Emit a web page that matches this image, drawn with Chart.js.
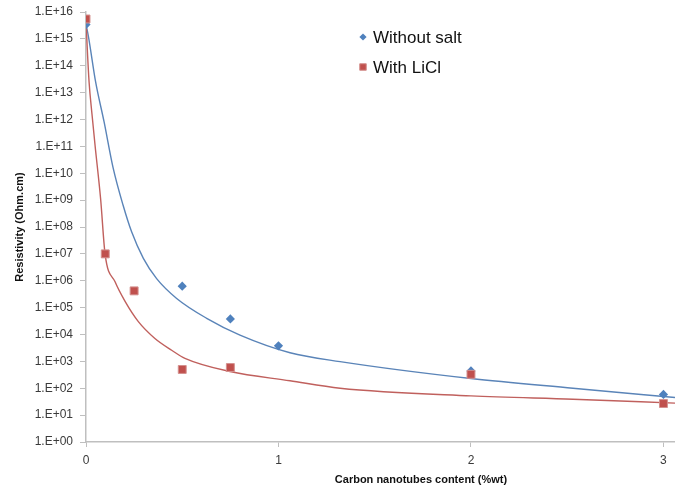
<!DOCTYPE html>
<html>
<head>
<meta charset="utf-8">
<script src="https://cdn.jsdelivr.net/npm/chart.js@4/dist/chart.umd.min.js"></script>
<style>
  html, body { margin: 0; padding: 0; background: #fff; }
  canvas { display: block; }
</style>
</head>
<body>
<canvas id="resistivityChart" width="675" height="493"></canvas>
<script>
// measured points
const withoutSaltX = [0, 0.5, 0.75, 1, 2, 3];
const withoutSaltY = [3.4e15, 6.3e5, 3.8e4, 3.8e3, 4.4e2, 59];
const withLiClX = [0, 0.1, 0.25, 0.5, 0.75, 2, 3];
const withLiClY = [5.5e15, 1e7, 4.2e5, 5e2, 5.9e2, 3.3e2, 27];

// trend curves
const trendBlueX = [0, 0.012, 0.05, 0.094, 0.14, 0.192, 0.237, 0.298, 0.367, 0.471, 0.627, 0.8, 1.06, 1.32, 2.0, 2.53, 3.06];
const trendBlueY = [3.4e15, 1.3e15, 2.5e13, 8.1e11, 1.7e10, 6.7e8, 6.6e7, 6.8e6, 1.2e6, 2.2e5, 4.0e4, 9.5e3, 2.1e3, 9.8e2, 2.3e2, 1.0e2, 45];
const trendRedX = [0, 0.005, 0.016, 0.031, 0.047, 0.076, 0.099, 0.151, 0.203, 0.272, 0.358, 0.445, 0.514, 0.748, 1.06, 1.32, 2.0, 2.53, 3.06];
const trendRedY = [5.5e15, 7.6e14, 2.5e13, 1.6e12, 1.1e11, 1.1e9, 1e7, 9.1e5, 1.7e5, 3.0e4, 7.1e3, 2.6e3, 1.3e3, 4.2e2, 1.9e2, 1.0e2, 52, 39, 28];

const xTicks = [0, 1, 2, 3];
const yTicks = [1, 1e1, 1e2, 1e3, 1e4, 1e5, 1e6, 1e7, 1e8, 1e9, 1e10, 1e11, 1e12, 1e13, 1e14, 1e15, 1e16];
const yTickLabels = ['1.E+00', '1.E+01', '1.E+02', '1.E+03', '1.E+04', '1.E+05', '1.E+06', '1.E+07', '1.E+08',
    '1.E+09', '1.E+10', '1.E+11', '1.E+12', '1.E+13', '1.E+14', '1.E+15', '1.E+16'];

const blue = '#4F81BD';
const red = '#C0504D';
const axisGray = '#bfbfbf';
const tickColor = '#3a3a3a';

function pairs(xs, ys) {
    return xs.map((x, i) => ({ x: x, y: ys[i] }));
}

// legend drawn inside the plot, excel style
const legendPlugin = {
    id: 'insideLegend',
    afterDraw(chart) {
        const ctx = chart.ctx;
        chart.data.datasets.forEach(ds => {
            if (ds.legendRow === undefined) return;
            const y = 37 + ds.legendRow * 30;
            ctx.save();
            ctx.fillStyle = ds.backgroundColor;
            ctx.strokeStyle = ds.borderColor;
            ctx.lineWidth = 1;
            Chart.helpers.drawPoint(ctx, {
                pointStyle: ds.pointStyle,
                radius: ds.pointStyle === 'rect' ? 4.6 : 3.6,
                rotation: 0,
                borderWidth: ds.borderWidth
            }, 363, y);
            ctx.fillStyle = '#111';
            ctx.font = '17px "Liberation Sans", Arial, sans-serif';
            ctx.textBaseline = 'middle';
            ctx.textAlign = 'left';
            ctx.fillText(ds.label, 373, y + 1);
            ctx.restore();
        });
    }
};

// x axis title sits right of centre in the original
const xTitlePlugin = {
    id: 'xTitle',
    afterDraw(chart) {
        const ctx = chart.ctx;
        ctx.save();
        ctx.fillStyle = '#111';
        ctx.font = 'bold 11px "Liberation Sans", Arial, sans-serif';
        ctx.textAlign = 'center';
        ctx.textBaseline = 'middle';
        ctx.fillText('Carbon nanotubes content (%wt)', 421, 480);
        ctx.restore();
    }
};

const ctx = document.getElementById('resistivityChart').getContext('2d');
new Chart(ctx, {
    type: 'scatter',
    data: {
        datasets: [
            {
                label: 'With LiCl',
                legendRow: 1,
                data: pairs(withLiClX, withLiClY),
                pointStyle: 'rect',
                pointRadius: 5.6,
                backgroundColor: red,
                borderColor: '#d4908e',
                borderWidth: 1,
                order: 0
            },
            {
                label: 'Without salt',
                legendRow: 0,
                data: pairs(withoutSaltX, withoutSaltY),
                pointStyle: 'rectRot',
                pointRadius: 4.6,
                backgroundColor: blue,
                borderColor: blue,
                borderWidth: 0,
                order: 1
            },
            {
                label: 'trend LiCl',
                data: pairs(trendRedX, trendRedY),
                showLine: true,
                pointRadius: 0,
                borderColor: '#c0605d',
                borderWidth: 1.4,
                cubicInterpolationMode: 'monotone',
                order: 2
            },
            {
                label: 'trend no salt',
                data: pairs(trendBlueX, trendBlueY),
                showLine: true,
                pointRadius: 0,
                borderColor: '#5a84b8',
                borderWidth: 1.4,
                cubicInterpolationMode: 'monotone',
                order: 3
            }
        ]
    },
    options: {
        responsive: false,
        animation: false,
        layout: {
            autoPadding: false,
            padding: { top: 12, right: 0, bottom: 0, left: 0 }
        },
        plugins: {
            legend: { display: false },
            tooltip: { enabled: false }
        },
        scales: {
            x: {
                type: 'linear',
                min: 0,
                max: 3.06,
                afterBuildTicks: scale => {
                    scale.ticks = xTicks.map(v => ({ value: v }));
                },
                afterFit: scale => {
                    scale.height = 51;
                    scale.paddingLeft = 0;
                    scale.paddingRight = 0;
                },
                ticks: {
                    color: tickColor,
                    font: { family: '"Liberation Sans", Arial, sans-serif', size: 12 },
                    padding: 6,
                    maxRotation: 0
                },
                grid: {
                    drawOnChartArea: false,
                    drawTicks: true,
                    tickLength: 5,
                    color: axisGray
                },
                border: { color: axisGray, width: 1.5 }
            },
            y: {
                type: 'logarithmic',
                min: 1,
                max: 1e16,
                afterBuildTicks: scale => {
                    scale.ticks = yTicks.map(v => ({ value: v }));
                },
                afterFit: scale => {
                    scale.width = 86;
                    scale.paddingTop = 0;
                    scale.paddingBottom = 0;
                },
                ticks: {
                    color: tickColor,
                    font: { family: '"Liberation Sans", Arial, sans-serif', size: 12 },
                    padding: 7,
                    autoSkip: false,
                    callback: (value, index) => yTickLabels[index]
                },
                grid: {
                    drawOnChartArea: false,
                    drawTicks: true,
                    tickLength: 6,
                    color: axisGray
                },
                border: { color: axisGray, width: 1.5 },
                title: {
                    display: true,
                    text: 'Resistivity (Ohm.cm)',
                    color: '#111',
                    font: { family: '"Liberation Sans", Arial, sans-serif', size: 11, weight: 'bold' },
                    padding: { top: 13, bottom: 0 }
                }
            }
        }
    },
    plugins: [legendPlugin, xTitlePlugin]
});
</script>
</body>
</html>
